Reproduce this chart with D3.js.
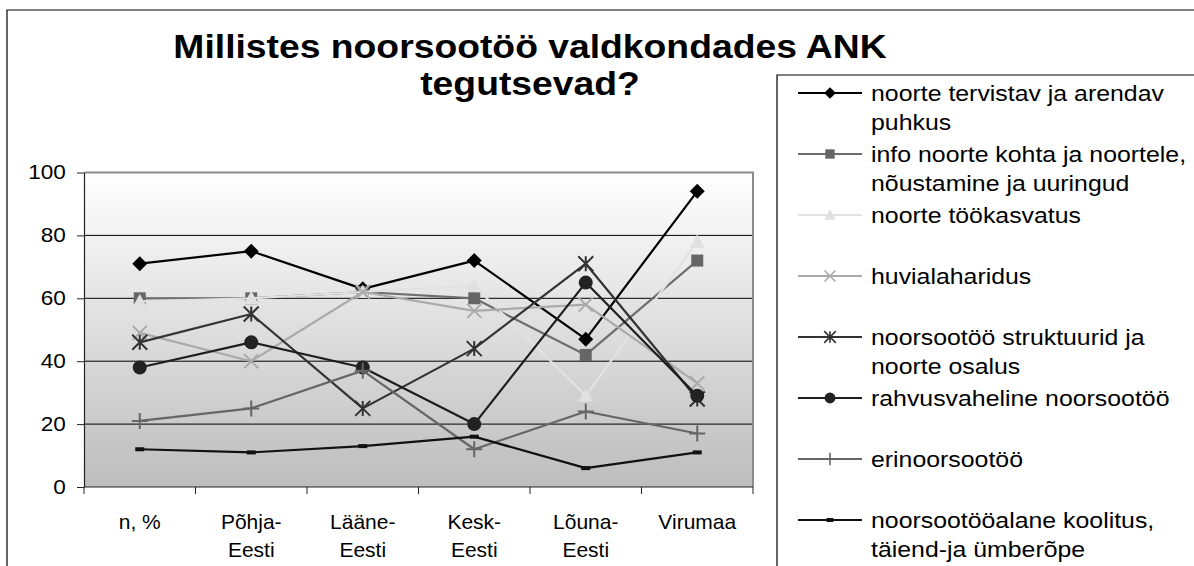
<!DOCTYPE html>
<html>
<head>
<meta charset="utf-8">
<script src="https://cdn.jsdelivr.net/npm/d3@7"></script>
<style>
  body { margin: 0; background: #fff; }
  svg { display: block; font-family: "Liberation Sans", Arial, sans-serif; }
</style>
</head>
<body>
<div id="chart"></div>
<script>
"use strict";
const categories = ["n, %", "Põhja-Eesti", "Lääne-Eesti", "Kesk-Eesti", "Lõuna-Eesti", "Virumaa"];
const yTicks = [0, 20, 40, 60, 80, 100];

const tervistav = [71, 75, 63, 72, 47, 94];
const info = [60, 60, 62, 60, 42, 72];
const tookasvatus = [59, 60, 62, 64, 29, 78];
const huviala = [49, 40, 62, 56, 58, 33];
const struktuurid = [46, 55, 25, 44, 71, 28];
const rahvusvaheline = [38, 46, 38, 20, 65, 29];
const erinoorsootoo = [21, 25, 37, 12, 24, 17];
const koolitus = [12, 11, 13, 16, 6, 11];

const seriesNames = [
    ["noorte tervistav ja arendav", "puhkus"],
    ["info noorte kohta ja noortele,", "nõustamine ja uuringud"],
    ["noorte töökasvatus"],
    ["huvialaharidus"],
    ["noorsootöö struktuurid ja", "noorte osalus"],
    ["rahvusvaheline noorsootöö"],
    ["erinoorsootöö"],
    ["noorsootööalane koolitus,", "täiend-ja ümberõpe"]
];
const seriesValues = [tervistav, info, tookasvatus, huviala, struktuurid, rahvusvaheline, erinoorsootoo, koolitus];

// look of each series (line colour, marker)
const styles = [
    { stroke: "#000", fill: "#000", marker: "diamond" },
    { stroke: "#6e6e6e", fill: "#666", marker: "square" },
    { stroke: "#e2e2e2", fill: "#e0e0e0", marker: "triangle" },
    { stroke: "#aaa", fill: "#aaa", marker: "x" },
    { stroke: "#333", fill: "#333", marker: "star" },
    { stroke: "#1e1e1e", fill: "#222", marker: "circle" },
    { stroke: "#666", fill: "#666", marker: "plus" },
    { stroke: "#111", fill: "#111", marker: "dash" }
];

const width = 1194;
const height = 566;
const plot = { left: 84, right: 753, top: 172.5, bottom: 487 };
const stretch = 1.13; // text in the reference is a little wide

const svg = d3.select("#chart").append("svg")
    .attr("width", width)
    .attr("height", height);

// outer chart frame
svg.append("path")
    .attr("d", `M7,${height} V10 H${width}`)
    .attr("fill", "none")
    .attr("stroke", "#000")
    .attr("stroke-width", 1.2);

const x = d3.scaleBand()
    .domain(categories)
    .range([plot.left, plot.right]);
const y = d3.scaleLinear()
    .domain([0, 100])
    .range([plot.bottom, plot.top]);
const cx = c => x(c) + x.bandwidth() / 2;

// plot background gradient
const grad = svg.append("defs").append("linearGradient")
    .attr("id", "bg")
    .attr("x1", 0).attr("y1", 0).attr("x2", 0).attr("y2", 1);
grad.append("stop").attr("offset", "0%").attr("stop-color", "#ffffff");
grad.append("stop").attr("offset", "100%").attr("stop-color", "#bdbdbd");

svg.append("rect")
    .attr("x", plot.left)
    .attr("y", plot.top)
    .attr("width", plot.right - plot.left)
    .attr("height", plot.bottom - plot.top)
    .attr("fill", "url(#bg)");

// grid lines
svg.append("g")
    .selectAll("line")
    .data(yTicks.filter(t => t > 0 && t < 100))
    .join("line")
    .attr("x1", plot.left)
    .attr("x2", plot.right)
    .attr("y1", d => y(d))
    .attr("y2", d => y(d))
    .attr("stroke", "#000")
    .attr("stroke-width", 1);

// top and right border of plot area
svg.append("path")
    .attr("d", `M${plot.left},${plot.top} H${plot.right} V${plot.bottom}`)
    .attr("fill", "none")
    .attr("stroke", "#8c8c8c")
    .attr("stroke-width", 2);

// y axis
const yAxis = svg.append("g")
    .attr("transform", `translate(${plot.left},0)`)
    .call(d3.axisLeft(y).tickValues(yTicks).tickSize(7).tickSizeOuter(0).tickPadding(9));
yAxis.select(".domain").attr("stroke", "#222").attr("stroke-width", 1.2);
yAxis.selectAll(".tick line").attr("stroke", "#222");
yAxis.selectAll(".tick text")
    .attr("font-size", 20)
    .attr("fill", "#000")
    .attr("transform", `scale(${stretch},1)`);

// x axis (ticks between categories)
const xAxis = svg.append("g");
xAxis.append("line")
    .attr("x1", plot.left).attr("x2", plot.right)
    .attr("y1", plot.bottom).attr("y2", plot.bottom)
    .attr("stroke", "#222").attr("stroke-width", 1.2);
const edges = categories.map(c => x(c)).concat([x(categories[categories.length - 1]) + x.bandwidth()]);
xAxis.selectAll("line.tk")
    .data(edges)
    .join("line")
    .attr("class", "tk")
    .attr("x1", d => d).attr("x2", d => d)
    .attr("y1", plot.bottom).attr("y2", plot.bottom + 7)
    .attr("stroke", "#222");

const xLabels = xAxis.selectAll("g.lbl")
    .data(categories)
    .join("g")
    .attr("class", "lbl")
    .attr("transform", d => `translate(${cx(d)},0)`);
xLabels.each(function (d) {
    const parts = d.includes("-") ? [d.slice(0, d.indexOf("-") + 1), d.slice(d.indexOf("-") + 1)] : [d];
    d3.select(this).selectAll("text")
        .data(parts)
        .join("text")
        .attr("transform", (p, i) => `translate(0,${529 + i * 28}) scale(1.05,1)`)
        .attr("text-anchor", "middle")
        .attr("font-size", 20)
        .attr("fill", "#000")
        .text(p => p);
});

// markers
const markerPath = (type, s) => {
    const h = s / 2;
    switch (type) {
        case "diamond": return `M0,${-h}L${h},0L0,${h}L${-h},0Z`;
        case "square": return `M${-h},${-h}H${h}V${h}H${-h}Z`;
        case "triangle": return `M0,${-h}L${h},${h * 0.8}H${-h}Z`;
        case "x": return `M${-h},${-h}L${h},${h}M${-h},${h}L${h},${-h}`;
        case "star": return `M${-h},${-h}L${h},${h}M${-h},${h}L${h},${-h}M0,${-h}V${h}`;
        case "plus": return `M${-h},0H${h}M0,${-h}V${h}`;
        case "dash": return `M${-h},-2H${h}V2H${-h}Z`;
        case "circle": return d3.symbol(d3.symbolCircle, Math.PI * h * h)();
    }
};
const isStroked = t => t === "x" || t === "star" || t === "plus";
const markerSize = { diamond: 15, square: 12, triangle: 15, x: 14, star: 15, plus: 16, dash: 9, circle: 14 };

const line = d3.line()
    .x((v, i) => cx(categories[i]))
    .y(v => y(v));

const series = svg.append("g")
    .selectAll("g")
    .data(seriesValues)
    .join("g");

series.append("path")
    .attr("d", d => line(d))
    .attr("fill", "none")
    .attr("stroke", (d, i) => styles[i].stroke)
    .attr("stroke-width", 2.2)
    .attr("stroke-linejoin", "round");

series.each(function (vals, si) {
    const st = styles[si];
    d3.select(this).selectAll("path.mk")
        .data(vals)
        .join("path")
        .attr("class", "mk")
        .attr("transform", (v, i) => `translate(${cx(categories[i])},${y(v)})`)
        .attr("d", markerPath(st.marker, markerSize[st.marker]))
        .attr("fill", isStroked(st.marker) ? "none" : st.fill)
        .attr("stroke", isStroked(st.marker) ? st.stroke : "none")
        .attr("stroke-width", 2);
});

// title
const title = svg.append("g")
    .attr("font-weight", "bold")
    .attr("font-size", 33)
    .attr("text-anchor", "middle");
title.append("text")
    .attr("transform", `translate(530,58) scale(${stretch},1)`)
    .text("Millistes noorsootöö valdkondades ANK");
title.append("text")
    .attr("transform", `translate(530,95) scale(${stretch},1)`)
    .text("tegutsevad?");

// legend
const legend = svg.append("g");
legend.append("path")
    .attr("d", `M${width},75 H777 V${height}`)
    .attr("fill", "none")
    .attr("stroke", "#000")
    .attr("stroke-width", 1.2);

const entries = legend.selectAll("g.entry")
    .data(seriesNames)
    .join("g")
    .attr("class", "entry")
    .attr("transform", (d, i) => `translate(0,${93 + i * 61})`);

entries.append("line")
    .attr("x1", 798).attr("x2", 862)
    .attr("y1", 0).attr("y2", 0)
    .attr("stroke", (d, i) => styles[i].stroke)
    .attr("stroke-width", 2);
entries.append("path")
    .attr("transform", "translate(830,0)")
    .attr("d", (d, i) => markerPath(styles[i].marker, markerSize[styles[i].marker] * 0.78))
    .attr("fill", (d, i) => isStroked(styles[i].marker) ? "none" : styles[i].fill)
    .attr("stroke", (d, i) => isStroked(styles[i].marker) ? styles[i].stroke : "none")
    .attr("stroke-width", 1.6);
entries.each(function (lines) {
    d3.select(this).selectAll("text")
        .data(lines)
        .join("text")
        .attr("transform", (t, i) => `translate(871,${8 + i * 29}) scale(${stretch},1)`)
        .attr("font-size", 22)
        .attr("fill", "#000")
        .text(t => t);
});
</script>
</body>
</html>
